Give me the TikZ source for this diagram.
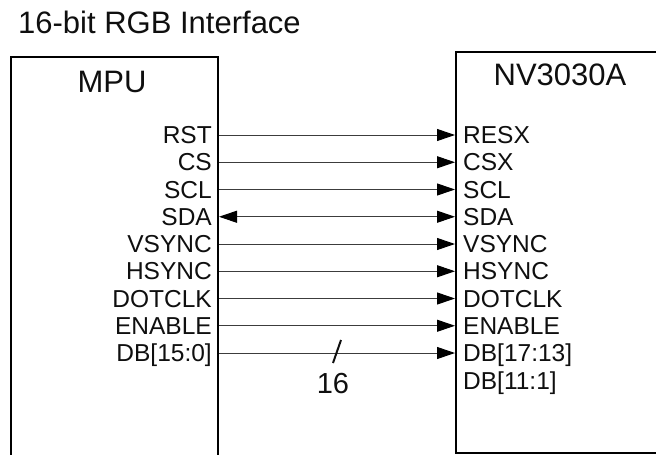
\documentclass[tikz,border=0pt]{standalone}
\usepackage{fontspec}
\setmainfont{Liberation Sans}
\usetikzlibrary{arrows.meta, positioning, calc}
\definecolor{wire1}{RGB}{60, 60, 60}
\definecolor{ink1}{RGB}{15, 15, 15}

\begin{document}
\begin{tikzpicture}[x=1pt, y=-1pt,
    chip/.style={draw=black, line width=2pt, inner sep=0pt},
    head/.style={inner sep=0pt, text=ink1, font=\fontsize{31}{31}\selectfont},
    pin/.style={inner sep=0pt, text=ink1, text height=17pt, text depth=0pt, font=\fontsize{24.5}{24.5}\selectfont},
    wire/.style={draw=wire1, line width=1pt, -{Triangle[length=18pt, width=12pt, color=black]}}]
  \clip (0,0) rectangle (656,455);

  \node[head, anchor=base west] (title) at (18,33) {16-bit RGB Interface};

  % the two chips
  \node[chip, anchor=north west, minimum width=207pt, minimum height=430pt] (mpu) at (10,56) {};
  \node[chip, anchor=north west, minimum width=250pt, minimum height=401pt] (nv) at (455,51) {};
  \node[head, anchor=base] (mpuname) at (112,92) {MPU};
  \node[head, anchor=base] (nvname) at (560,85) {NV3030A};

  % signals
  \foreach \l/\r [count=\i] in {RST/RESX, CS/CSX, SCL/SCL, SDA/SDA, VSYNC/VSYNC, HSYNC/HSYNC, DOTCLK/DOTCLK, ENABLE/ENABLE, {DB[15:0]}/{DB[17:13]}} {
    \node[pin, anchor=east] (l\i) at (212, 135+27.25*\i-27.25) {\l};
    \node[pin, anchor=west] (r\i) at (463, 135+27.25*\i-27.25) {\r};
  }
  \node[pin, below=10.25pt of r9.south west, anchor=north west] (r10) {DB[11:1]};

  \foreach \i in {1,2,3,5,6,7,8,9}
    \draw[wire] (l\i.east -| mpu.east) -- (r\i.west -| nv.west);
  \draw[wire, {Triangle[length=18pt, width=12pt, color=black]}-{Triangle[length=18pt, width=12pt, color=black]}] (l4.east -| mpu.east) -- (r4.west -| nv.west);

  % bus width
  \coordinate (busmid) at ($(l9.east -| mpu.east)!0.5!(r9.west -| nv.west)$);
  \draw[ink1, line width=2pt] ($(busmid)+(-4,10)$) -- ($(busmid)+(4,-13)$);
  \node[head, anchor=base, font=\fontsize{29}{29}\selectfont] (buswidth) at ($(busmid)+(-4,40)$) {16};
\end{tikzpicture}
\end{document}
